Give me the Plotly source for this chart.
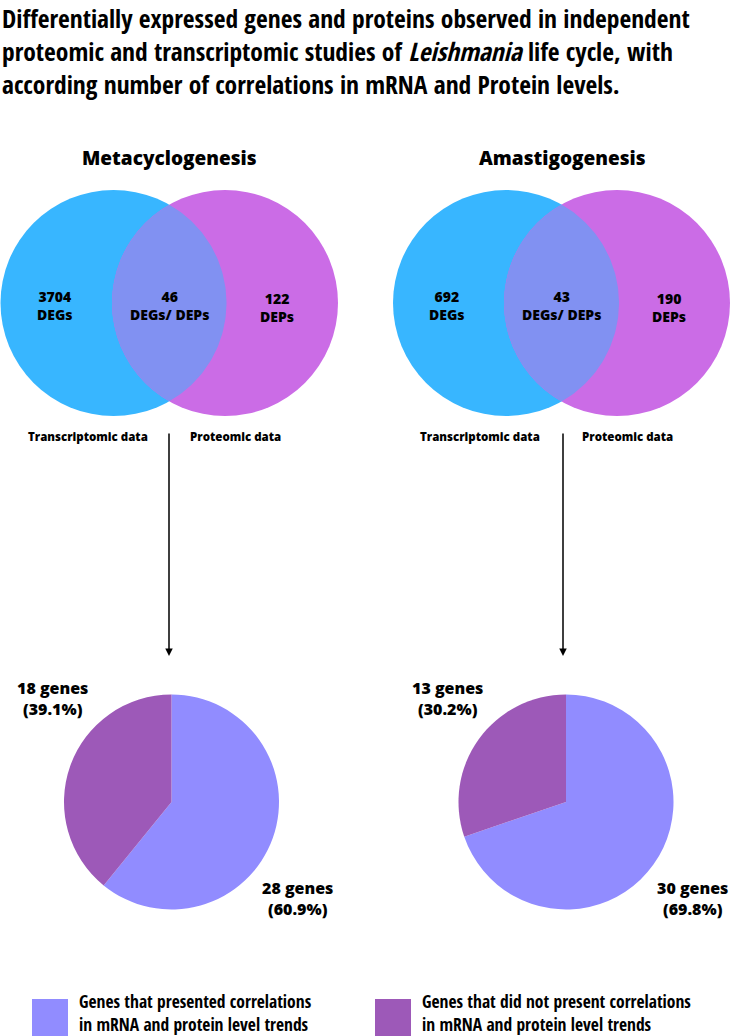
import numpy as np
import plotly.graph_objects as go

# ---------------- data ----------------
venn_titles = ["Metacyclogenesis", "Amastigogenesis"]
deg_only = [3704, 692]
overlap = [46, 43]
dep_only = [122, 190]
set_labels = ["Transcriptomic data", "Proteomic data"]

pie_categories = ["Genes that presented correlations<br>in mRNA and protein level trends",
                  "Genes that did not present correlations<br>in mRNA and protein level trends"]
pie_meta = [28, 18]
pie_ama = [30, 13]
pie_values = [pie_meta, pie_ama]

title_lines = ["Differentially expressed genes and proteins observed in independent",
               "proteomic and transcriptomic studies of <i>Leishmania</i> life cycle, with",
               "according number of correlations in mRNA and Protein levels."]

# ---------------- style ----------------
W, H = 731, 1036
BLUE = "#38B6FF"
PURPLE = "#CB6CE6"
LENS = "#8191F2"
PIE_LIGHT = "#918CFF"
PIE_DARK = "#9D59B8"
FONT = "Open Sans"
COND = "Open Sans Condensed, Open Sans"

fig = go.Figure()

annotations = []
shapes = []

# title
for i, line in enumerate(title_lines):
    annotations.append(dict(x=0, y=18 + 33 * i, text=line, xanchor="left", yanchor="middle",
                            showarrow=False, font=dict(family=COND, size=25.5, color="black", weight="bold")))

# venn geometry (pixel layout)
venn_cx = [(113.5, 225), (506, 617)]
venn_cy = 303
R = 113
title_x = [169, 562]
arrow_x = [169, 563]

for k in range(2):
    c1, c2 = venn_cx[k]
    shapes.append(dict(type="circle", xref="x", yref="y", x0=c1 - R, x1=c1 + R,
                       y0=venn_cy - R, y1=venn_cy + R, fillcolor=BLUE, line=dict(width=0), layer="below"))
    shapes.append(dict(type="circle", xref="x", yref="y", x0=c2 - R, x1=c2 + R,
                       y0=venn_cy - R, y1=venn_cy + R, fillcolor=PURPLE, line=dict(width=0), layer="below"))
    # lens (intersection of the two sets)
    d = c2 - c1
    a = np.arccos((d / 2) / R)
    t1 = np.linspace(-a, a, 80)
    xs1 = c1 + R * np.cos(t1)
    ys1 = venn_cy + R * np.sin(t1)
    t2 = np.linspace(np.pi + a, np.pi - a, 80)
    xs2 = c2 + R * np.cos(t2)
    ys2 = venn_cy + R * np.sin(t2)
    fig.add_trace(go.Scatter(x=np.concatenate([xs1, xs2]), y=np.concatenate([ys1, ys2]),
                             fill="toself", fillcolor=LENS, line=dict(width=0), mode="lines",
                             hoverinfo="skip", showlegend=False))

    annotations.append(dict(x=title_x[k], y=158, text=venn_titles[k], showarrow=False,
                            font=dict(family=FONT, size=19, color="black", weight=800)))
    vf = dict(family=FONT, size=14, color="black", weight=800)
    centers = [(c1 - 59, 305, f"{deg_only[k]}<br>DEGs"),
               ((c1 + c2) / 2, 305, f"{overlap[k]}<br>DEGs/ DEPs"),
               (c2 + 52, 307, f"{dep_only[k]}<br>DEPs")]
    for (cx, cy, txt) in centers:
        annotations.append(dict(x=cx, y=cy, text=txt, showarrow=False, font=vf))
    lf = dict(family=FONT, size=11.5, color="black", weight=800)
    annotations.append(dict(x=c1 - 26, y=436, text=set_labels[0], showarrow=False, font=lf))
    annotations.append(dict(x=c2 + 10, y=436, text=set_labels[1], showarrow=False, font=lf))

    # arrow
    annotations.append(dict(x=arrow_x[k], y=656, ax=arrow_x[k], ay=432, xref="x", yref="y",
                            axref="x", ayref="y", text="", showarrow=True, arrowhead=2,
                            arrowsize=1, arrowwidth=1.5, arrowcolor="black"))

# pies
pie_cx = [171.5, 566]
pie_cy = 802
PR = 107.5
for k in range(2):
    vals = pie_values[k]
    fig.add_trace(go.Pie(labels=pie_categories, values=vals, sort=False, direction="clockwise",
                         rotation=0, textinfo="none", hoverinfo="label+value+percent",
                         marker=dict(colors=[PIE_LIGHT, PIE_DARK], line=dict(width=0)),
                         showlegend=False,
                         domain=dict(x=[(pie_cx[k] - PR) / W, (pie_cx[k] + PR) / W],
                                     y=[(H - pie_cy - PR) / H, (H - pie_cy + PR) / H])))
    tot = sum(vals)
    pf = dict(family=FONT, size=16, color="black", weight=800)
    annotations.append(dict(x=pie_cx[k] - 119, y=698,
                            text=f"{vals[1]} genes<br>({vals[1] / tot * 100:.1f}%)",
                            showarrow=False, font=pf))
    annotations.append(dict(x=pie_cx[k] + 126, y=898,
                            text=f"{vals[0]} genes<br>({vals[0] / tot * 100:.1f}%)",
                            showarrow=False, font=pf))

# legend
leg_x = [32, 375]
leg_cols = [PIE_LIGHT, PIE_DARK]
for i in range(2):
    shapes.append(dict(type="rect", xref="x", yref="y", x0=leg_x[i], x1=leg_x[i] + 36,
                       y0=999, y1=1036, fillcolor=leg_cols[i], line=dict(width=0)))
    annotations.append(dict(x=leg_x[i] + 45, y=1036, text=pie_categories[i], xanchor="left",
                            yanchor="bottom", align="left", valign="bottom", showarrow=False,
                            yshift=-2,
                            font=dict(family=COND, size=17.5, color="black", weight="bold")))

fig.update_layout(width=W, height=H, margin=dict(l=0, r=0, t=0, b=0),
                  paper_bgcolor="white", plot_bgcolor="white",
                  xaxis=dict(range=[0, W], visible=False, fixedrange=True),
                  yaxis=dict(range=[H, 0], visible=False, fixedrange=True),
                  shapes=shapes, annotations=annotations)

fig.write_html("out.html", config={"displayModeBar": False},
               post_script="document.body.style.margin='0';document.body.style.overflow='hidden';")
